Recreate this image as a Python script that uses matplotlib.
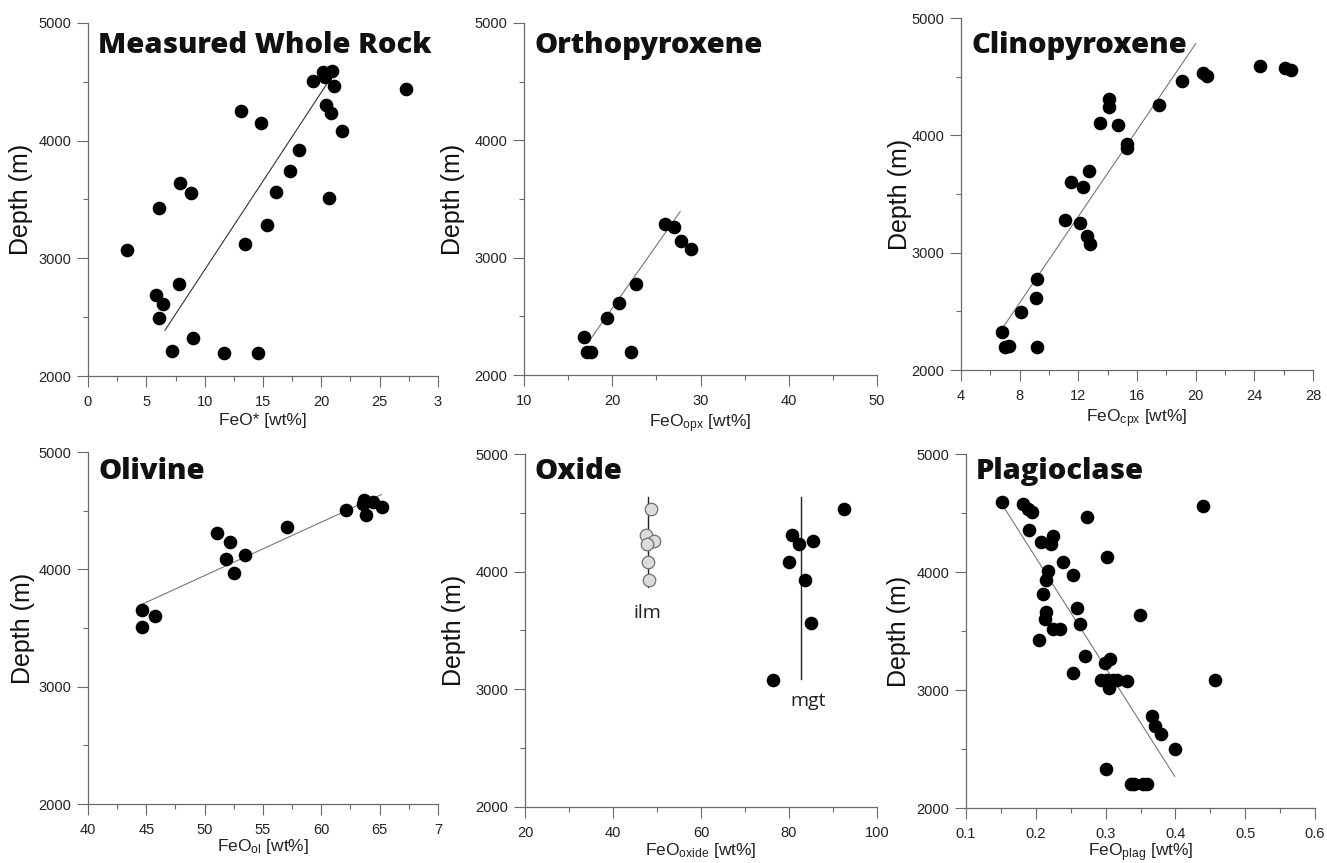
import matplotlib
matplotlib.use('Agg')
import matplotlib.pyplot as plt
from matplotlib.ticker import MultipleLocator

# --- data ---
# Measured whole rock
wr_feo = [3.3, 7.9, 8.8, 6.1, 5.8, 6.4, 6.1, 7.8, 7.2, 9.0, 11.7, 14.6,
          13.1, 14.8, 13.5, 15.3, 16.1, 17.3, 18.1, 20.7, 21.8, 20.8, 20.4,
          21.1, 19.3, 20.1, 20.3, 20.9, 27.3]
wr_depth = [3070, 3638, 3558, 3425, 2687, 2616, 2494, 2778, 2210, 2324, 2199, 2199,
            4254, 4149, 3121, 3283, 3561, 3743, 3921, 3516, 4083, 4234, 4305,
            4461, 4509, 4580, 4540, 4594, 4438]
wr_fit_x = [6.6, 20.8]
wr_fit_y = [2389, 4532]
wr_xticks = [0, 5, 10, 15, 20, 25, 30]
wr_xticklabels = ['0', '5', '10', '15', '20', '25', '3']

# Orthopyroxene
opx_feo = [16.8, 17.1, 17.6, 19.4, 20.8, 22.7, 22.1, 26.0, 27.0, 27.8, 28.9]
opx_depth = [2321, 2199, 2199, 2489, 2617, 2774, 2199, 3285, 3263, 3143, 3072]
opx_fit_x = [17.2, 27.7]
opx_fit_y = [2270, 3393]
opx_xticks = [10, 20, 30, 40, 50]
opx_xticklabels = ['10', '20', '30', '40', '50']

# Clinopyroxene
cpx_feo = [6.8, 7.0, 7.3, 9.2, 8.1, 9.1, 9.2, 11.1, 12.1, 12.6, 12.8, 11.5,
           12.3, 12.7, 13.5, 14.7, 14.1, 14.1, 15.3, 15.3, 17.5, 19.1, 20.5,
           20.8, 24.4, 26.1, 26.5]
cpx_depth = [2321, 2199, 2205, 2200, 2492, 2617, 2774, 3280, 3257, 3143, 3072, 3604,
             3558, 3695, 4104, 4084, 4238, 4309, 3922, 3891, 4255, 4463, 4531,
             4508, 4593, 4576, 4556]
cpx_fit_x = [6.9, 20.0]
cpx_fit_y = [2370, 4781]
cpx_xticks = [4, 8, 12, 16, 20, 24, 28]
cpx_xticklabels = ['4', '8', '12', '16', '20', '24', '28']

# Olivine
ol_feo = [44.6, 44.6, 45.7, 51.1, 52.2, 51.8, 52.5, 53.5, 57.1, 62.1, 63.7,
          63.6, 64.4, 63.8, 65.2]
ol_depth = [3652, 3510, 3604, 4310, 4237, 4086, 3973, 4120, 4359, 4509, 4594,
            4560, 4574, 4461, 4532]
ol_fit_x = [44.65, 65.15]
ol_fit_y = [3703, 4637]
ol_xticks = [40, 45, 50, 55, 60, 65, 70]
ol_xticklabels = ['40', '45', '50', '55', '60', '65', '7']

# Oxide: ilmenite and magnetite
ilm_feo = [48.6, 47.6, 49.3, 47.7, 47.9, 48.2]
ilm_depth = [4529, 4308, 4260, 4232, 4084, 3925]
ilm_line_x = [47.95, 47.95]
ilm_line_y = [3866, 4637]
mgt_feo = [92.5, 80.7, 82.3, 85.5, 80.0, 83.6, 85.1, 76.4]
mgt_depth = [4529, 4308, 4234, 4257, 4084, 3925, 3560, 3078]
mgt_line_x = [82.65, 82.65]
mgt_line_y = [3092, 4637]
ox_xticks = [20, 40, 60, 80, 100]
ox_xticklabels = ['20', '40', '60', '80', '100']

# Plagioclase
plag_feo = [0.151, 0.181, 0.189, 0.195, 0.190, 0.208, 0.225, 0.222, 0.239, 0.217,
            0.253, 0.215, 0.210, 0.215, 0.213, 0.225, 0.235, 0.204, 0.259, 0.263,
            0.270, 0.254, 0.302, 0.274, 0.349, 0.299, 0.306, 0.293, 0.302, 0.305,
            0.311, 0.316, 0.330, 0.367, 0.371, 0.380, 0.399, 0.300, 0.336, 0.340,
            0.354, 0.359, 0.439, 0.457]
plag_depth = [4596, 4579, 4537, 4511, 4359, 4257, 4308, 4237, 4088, 4008,
              3975, 3929, 3814, 3658, 3602, 3520, 3520, 3427, 3695, 3562,
              3285, 3144, 4124, 4463, 3636, 3229, 3263, 3082, 3082, 3017,
              3082, 3082, 3073, 2782, 2698, 2627, 2500, 2331, 2203, 2203,
              2206, 2203, 4556, 3082]
plag_fit_x = [0.154, 0.399]
plag_fit_y = [4551, 2268]
plag_xticks = [0.1, 0.2, 0.3, 0.4, 0.5, 0.6]
plag_xticklabels = ['0.1', '0.2', '0.3', '0.4', '0.5', '0.6']

depth_ticks = [2000, 3000, 4000, 5000]

# --- figure ---
plt.rcParams['font.family'] = ['Liberation Sans', 'DejaVu Sans']
plt.rcParams['mathtext.fontset'] = 'custom'
plt.rcParams['mathtext.rm'] = 'Liberation Sans'
plt.rcParams['mathtext.it'] = 'Liberation Sans'

W, H = 1327, 863
fig = plt.figure(figsize=(W / 100, H / 100), dpi=100)
fig.patch.set_facecolor('white')

spine_col = '#6a6a6a'
text_col = '#222222'


def make_axes(left, right, top, bottom):
    return fig.add_axes([left / W, 1 - bottom / H, (right - left) / W, (bottom - top) / H])


def style_axes(ax, xticks, xticklabels, xminor, xlabel, title, title_dy, ylab_x, xlab_y):
    ax.set_xlim(xticks[0], xticks[-1])
    ax.set_ylim(2000, 5000)
    ax.set_xticks(xticks, labels=xticklabels)
    ax.set_yticks(depth_ticks)
    ax.xaxis.set_minor_locator(MultipleLocator(xminor))
    ax.yaxis.set_minor_locator(MultipleLocator(500))
    for side in ['top', 'right']:
        ax.spines[side].set_visible(False)
    for side in ['left', 'bottom']:
        ax.spines[side].set_color(spine_col)
        ax.spines[side].set_linewidth(0.9)
    ax.tick_params(which='major', length=8, width=0.8, color=spine_col,
                   labelsize=10.5, labelcolor=text_col)
    ax.tick_params(which='minor', length=3.8, width=0.8, color=spine_col)
    ax.tick_params(axis='x', which='major', pad=6)
    ax.tick_params(axis='y', which='major', pad=4)
    ax.set_ylabel('Depth (m)', fontsize=18, color='#111111')
    # ylabel anchor is the right-hand edge of the rotated text
    ax.yaxis.set_label_coords(ylab_x, 0.5)
    ax.set_xlabel(xlabel, fontsize=12.5, color=text_col)
    ax.xaxis.set_label_coords(0.5, xlab_y)
    ax.annotate(title, xy=(0, 1), xycoords='axes fraction',
                xytext=(10, -title_dy), textcoords='offset pixels',
                fontsize=21, fontweight='heavy', family=['Open Sans', 'DejaVu Sans'],
                color='#111111', ha='left', va='baseline')


dot = dict(linestyle='none', marker='o', markersize=8.8, color='black',
           markeredgecolor='black', zorder=3)

# Measured whole rock
ax1 = make_axes(88, 438, 23, 376)
ax1.plot(wr_fit_x, wr_fit_y, color='#333333', linewidth=0.8)
ax1.plot(wr_feo, wr_depth, **dot)
style_axes(ax1, wr_xticks, wr_xticklabels, 2.5, 'FeO* [wt%]',
           'Measured Whole Rock', 30, -0.157, -0.105)

# Orthopyroxene
ax2 = make_axes(524, 877, 23, 375)
ax2.plot(opx_fit_x, opx_fit_y, color='#777777', linewidth=0.8)
ax2.plot(opx_feo, opx_depth, **dot)
style_axes(ax2, opx_xticks, opx_xticklabels, 5, r'FeO$_{\mathrm{opx}}$ [wt%]',
           'Orthopyroxene', 30, -0.167, -0.105)

# Clinopyroxene
ax3 = make_axes(961, 1313, 18, 370)
ax3.plot(cpx_fit_x, cpx_fit_y, color='#777777', linewidth=0.8)
ax3.plot(cpx_feo, cpx_depth, **dot)
style_axes(ax3, cpx_xticks, cpx_xticklabels, 2, r'FeO$_{\mathrm{cpx}}$ [wt%]',
           'Clinopyroxene', 35, -0.139, -0.105)

# Olivine
ax4 = make_axes(88, 438, 452, 804)
ax4.plot(ol_fit_x, ol_fit_y, color='#777777', linewidth=0.8)
ax4.plot(ol_feo, ol_depth, **dot)
style_axes(ax4, ol_xticks, ol_xticklabels, 2.5, r'FeO$_{\mathrm{ol}}$ [wt%]',
           'Olivine', 27, -0.151, -0.095)

# Oxide
ax5 = make_axes(525, 877, 454, 807)
ax5.plot(ilm_line_x, ilm_line_y, color='#222222', linewidth=1.0, zorder=2)
ax5.plot(mgt_line_x, mgt_line_y, color='#222222', linewidth=1.0, zorder=2)
ax5.plot(ilm_feo, ilm_depth, linestyle='none', marker='o', markersize=9,
         color='#dcdcdc', markeredgecolor='#707070', markeredgewidth=0.9, zorder=3)
ax5.plot(mgt_feo, mgt_depth, **dot)
ax5.text(47.8, 3650, 'ilm', fontsize=14, ha='center', va='center',
         family=['Open Sans', 'DejaVu Sans'], color='#222222')
ax5.text(84.3, 2900, 'mgt', fontsize=14, ha='center', va='center',
         family=['Open Sans', 'DejaVu Sans'], color='#222222')
style_axes(ax5, ox_xticks, ox_xticklabels, 10, r'FeO$_{\mathrm{oxide}}$ [wt%]',
           'Oxide', 25, -0.168, -0.095)

# Plagioclase
ax6 = make_axes(966, 1315, 454, 808)
ax6.plot(plag_fit_x, plag_fit_y, color='#777777', linewidth=0.8)
ax6.plot(plag_feo, plag_depth, **dot)
style_axes(ax6, plag_xticks, plag_xticklabels, 0.05, r'FeO$_{\mathrm{plag}}$ [wt%]',
           'Plagioclase', 25, -0.158, -0.095)

fig.savefig('out.png', dpi=100)
